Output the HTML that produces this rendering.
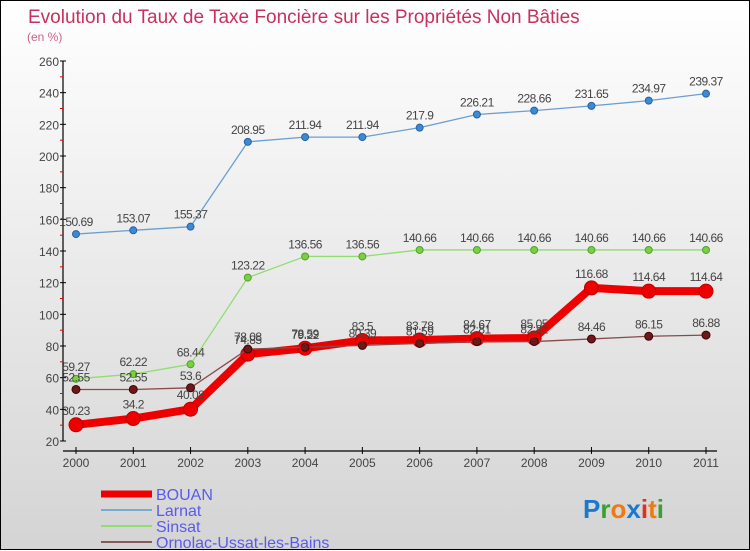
<!DOCTYPE html>
<html><head><meta charset="utf-8">
<style>
html,body{margin:0;padding:0}
body{width:750px;height:550px;overflow:hidden;font-family:"Liberation Sans",sans-serif}
#wrap{position:relative;width:748px;height:548px;border:1px solid #000;background:linear-gradient(#fff,#d4d4d4)}
svg{position:absolute;left:0;top:0}
</style></head><body>
<div id="wrap">
<svg id="chart" width="750" height="550"></svg>
</div>
<script>
const years=[2000,2001,2002,2003,2004,2005,2006,2007,2008,2009,2010,2011];
const bouan=[30.23,34.2,40.08,74.85,78.59,83.5,83.78,84.67,85.05,116.68,114.64,114.64];
const larnat=[150.69,153.07,155.37,208.95,211.94,211.94,217.9,226.21,228.66,231.65,234.97,239.37];
const sinsat=[59.27,62.22,68.44,123.22,136.56,136.56,140.66,140.66,140.66,140.66,140.66,140.66];
const ornolac=[52.55,52.55,53.6,78.08,79.22,80.39,81.59,82.81,82.81,84.46,86.15,86.88];
const yTicks=[20,40,60,80,100,120,140,160,180,200,220,240,260];

const svg=document.getElementById('chart');
const NS='http://www.w3.org/2000/svg';
const x0=75,x1=705,yTop=60,yBot=440,vMin=20,vMax=260;
function xs(i){return x0+(x1-x0)*i/(years.length-1);}
function ys(v){return yBot-(v-vMin)/(vMax-vMin)*(yBot-yTop);}
function mk(tag,attrs){const e=document.createElementNS(NS,tag);for(const k in attrs)e.setAttribute(k,attrs[k]);svg.appendChild(e);return e;}

let t=mk('text',{x:27,y:22,'font-size':19,fill:'#c8305e'});t.textContent='Evolution du Taux de Taxe Foncière sur les Propriétés Non Bâties';

t=mk('text',{x:26,y:40,'font-size':12,fill:'#d0608a'});t.textContent='(en %)';


let a=mk('line',{x1:62,y1:yTop,x2:62,y2:yBot,stroke:'#000','stroke-width':1.2});

yTicks.forEach((v,i)=>{
  const y=ys(v);
  let l=mk('line',{x1:59,y1:y,x2:65,y2:y,stroke:'#000'});
  
  let tx=mk('text',{x:58,y:y+5,'font-size':12,fill:'#444','text-anchor':'end'});tx.textContent=v;
  
  if(i<yTicks.length-1){const ym=ys(v+10);let m=mk('line',{x1:59,y1:ym,x2:62,y2:ym,stroke:'#e00'});
  }
});
a=mk('line',{x1:62,y1:450,x2:716,y2:450,stroke:'#000','stroke-width':1.2});

years.forEach((yr,i)=>{
  const x=xs(i);
  let l=mk('line',{x1:x,y1:446,x2:x,y2:453,stroke:'#000'});
  
  let tx=mk('text',{x:x,y:466,'font-size':12,fill:'#444','text-anchor':'middle'});tx.textContent=yr;
  
});

function series(vals,name,color,w,r,dot,dotStroke){
  const pts=vals.map((v,i)=>xs(i)+','+ys(v)).join(' ');
  let p=mk('polyline',{points:pts,fill:'none',stroke:color,'stroke-width':w,'stroke-linejoin':'round'});
  
  vals.forEach((v,i)=>{
    let c=mk('circle',{cx:xs(i),cy:ys(v),r:r,fill:dot,stroke:dotStroke,'stroke-width':1});
    
  });
}
function labels(vals,name,off){
  vals.forEach((v,i)=>{
    let tx=mk('text',{x:xs(i),y:ys(v)-off,'font-size':12,fill:'#444','text-anchor':'middle','letter-spacing':'-0.5'});
    tx.textContent=String(v);
    
  });
}
series(larnat,'larnat','#6a9fd0',1.3,3.5,'#3a8ad8','#2a60a0');
series(sinsat,'sinsat','#90dd70',1.3,3.5,'#7ad040','#50a030');
series(bouan,'bouan','#ee0000',8,7,'#ee0000','#c00000');
series(ornolac,'ornolac','#8a4a4a',1.3,4,'#6a1a1a','#400');
labels(larnat,'larnat',8);labels(sinsat,'sinsat',8);labels(bouan,'bouan',10);labels(ornolac,'ornolac',8);

const leg=[['BOUAN','#ee0000',7],['Larnat','#7aaad0',2],['Sinsat','#90dd70',2],['Ornolac-Ussat-les-Bains','#8a5a5a',2]];
leg.forEach((d,i)=>{
  const y=493+i*16;
  let l=mk('line',{x1:100,y1:y,x2:151,y2:y,stroke:d[1],'stroke-width':d[2]});
  
  let tx=mk('text',{x:155,y:y+6,'font-size':16,fill:'#5a5aee'});tx.textContent=d[0];
  
});
const logo=[['P','#1a78d0'],['r','#3aa030'],['o','#f07a10'],['x','#1a78d0'],['i','#e03020'],['t','#f07a10'],['i','#3aa030']];
let lx=582;
let g=document.createElementNS(NS,'text');g.setAttribute('x',lx);g.setAttribute('y',517);g.setAttribute('font-size',26);g.setAttribute('font-weight','bold');

logo.forEach(d=>{const s=document.createElementNS(NS,'tspan');s.setAttribute('fill',d[1]);s.textContent=d[0];g.appendChild(s);});
svg.appendChild(g);
</script>
</body></html>
